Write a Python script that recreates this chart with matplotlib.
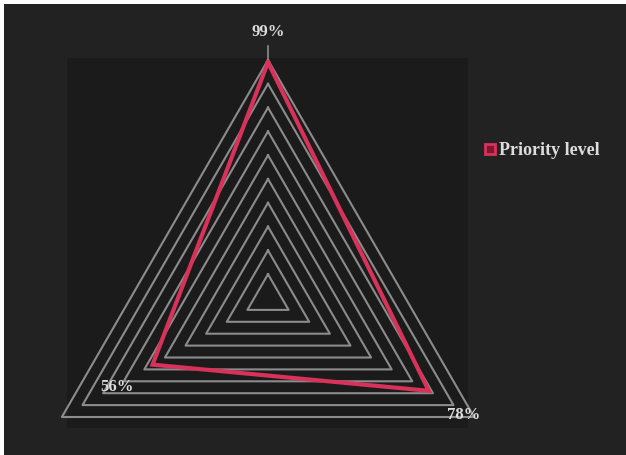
import numpy as np
import matplotlib
matplotlib.use("Agg")
import matplotlib.pyplot as plt
from matplotlib.patches import Rectangle
from matplotlib.lines import Line2D

# data
values = [99, 78, 56]
value_labels = ["99%", "78%", "56%"]
series_name = "Priority level"
ring_levels = [10, 20, 30, 40, 50, 60, 70, 80, 90, 100]

W, H = 626, 455
fig = plt.figure(figsize=(W / 100, H / 100), dpi=100, facecolor="white")
fig.patches.append(Rectangle((4 / W, 0), 1 - 4 / W, 1 - 4 / H, transform=fig.transFigure,
                             facecolor="#222222", edgecolor="none", zorder=-10))

ax = fig.add_axes([67 / W, 1 - 428 / H, (468 - 67) / W, (428 - 58) / H])
ax.set_zorder(1)
ax.set_facecolor("#1b1b1b")
for s in ax.spines.values():
    s.set_visible(False)
ax.set_xticks([])
ax.set_yticks([])

scale = 2.38  # px per unit
ax.set_xlim(-(268 - 67) / scale, (468 - 268) / scale)
ax.set_ylim(-(428 - 298) / scale, (298 - 58) / scale)

n = len(values)
angles = np.pi / 2 - np.arange(n) * 2 * np.pi / n  # top, bottom-right, bottom-left

def to_xy(r):
    r = np.asarray(r, dtype=float)
    return r * np.cos(angles), r * np.sin(angles)

grid_col = "#8c8c8c"
for lv in ring_levels:
    x, y = to_xy([lv] * n)
    ax.plot(np.append(x, x[0]), np.append(y, y[0]), color=grid_col, lw=1.5, zorder=2,
            clip_on=False)

# small tick spoke at top
ax.plot([0, 0], [100, 106], color=grid_col, lw=1.2, clip_on=False, zorder=2)

red = "#d8325a"
x, y = to_xy(values)
ax.plot(np.append(x, x[0]), np.append(y, y[0]), color=red, lw=3, zorder=3,
        solid_joinstyle="miter", clip_on=False)

font = dict(family=["Liberation Serif", "DejaVu Serif"], fontweight="bold", color="#dddddd")
label_pos = [(0, 111.8), (82, -49), (-63.4, -37.4)]
for (lx, ly), t in zip(label_pos, value_labels):
    ax.text(lx, ly, t, ha="center", va="center", fontsize=12, clip_on=False, **font)

handle = Line2D([], [], marker="s", linestyle="none", markersize=7,
                markerfacecolor="#7a1830", markeredgecolor=red, markeredgewidth=2)
leg = fig.legend([handle], [series_name], loc="center left",
                 bbox_to_anchor=(463 / W, 1 - 151 / H), frameon=False,
                 handletextpad=-0.1, handlelength=1.2,
                 prop=dict(family="Liberation Serif", weight="bold", size=13))
for t in leg.get_texts():
    t.set_color("#dddddd")

fig.savefig("out.png", dpi=100, facecolor=fig.get_facecolor())
